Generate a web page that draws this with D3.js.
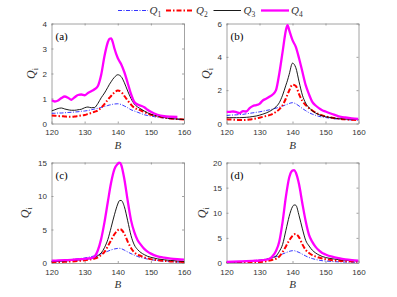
<!DOCTYPE html>
<html><head><meta charset="utf-8">
<script src="https://cdn.jsdelivr.net/npm/d3@7"></script>
<style>body{margin:0;background:#fff}svg{display:block}</style>
</head><body>
<script>
// ---- data ----
const seriesNames = ["Q1","Q2","Q3","Q4"];
const xTicks = [120,130,140,150,160];

const bA = [120,121,122,123,124,125,126,127,128,129,130,131,132,133,134,135,136,137,137.5,138,138.5,139,140,141,142,143,144,145,146,147,148,149,150,152,154,156,158,160];
const q1A = [0.41,0.41,0.42,0.42,0.43,0.44,0.45,0.46,0.47,0.49,0.5,0.52,0.55,0.58,0.61,0.64,0.68,0.72,0.74,0.75,0.77,0.78,0.79,0.76,0.7,0.63,0.55,0.5,0.45,0.4,0.35,0.32,0.3,0.25,0.22,0.19,0.17,0.16];
const q2A = [0.32,0.31,0.3,0.29,0.28,0.27,0.27,0.28,0.3,0.32,0.34,0.38,0.42,0.47,0.52,0.63,0.78,0.95,1.03,1.1,1.18,1.24,1.32,1.27,1.1,0.92,0.76,0.63,0.57,0.52,0.46,0.4,0.35,0.29,0.24,0.2,0.18,0.16];
const q3A = [0.5,0.55,0.6,0.62,0.58,0.55,0.53,0.53,0.55,0.57,0.63,0.66,0.63,0.64,0.8,1.03,1.22,1.45,1.57,1.67,1.77,1.85,1.95,1.88,1.63,1.3,1.0,0.78,0.66,0.58,0.5,0.43,0.37,0.3,0.24,0.2,0.18,0.16];
const q4A = [0.93,0.88,0.92,1.02,1.08,1.03,0.95,1.05,1.14,1.16,1.13,1.22,1.29,1.37,1.5,1.95,2.7,3.25,3.39,3.4,3.25,3.0,2.62,2.38,2.05,1.62,1.18,0.86,0.76,0.71,0.65,0.55,0.47,0.35,0.29,0.27,0.26,null];

const bB = [120,121,122,123,124,125,126,127,128,129,130,131,132,133,134,135,136,137,138,138.5,139,140,141,142,143,144,145,146,147,148,149,150,152,154,156,158,160];
const q1B = [0.48,0.5,0.51,0.52,0.54,0.55,0.58,0.61,0.64,0.67,0.7,0.74,0.78,0.82,0.87,0.92,0.98,1.05,1.12,1.16,1.2,1.25,1.18,1.05,0.9,0.77,0.65,0.56,0.49,0.43,0.39,0.36,0.3,0.26,0.23,0.21,0.2];
const q2B = [0.25,0.24,0.23,0.22,0.21,0.21,0.22,0.24,0.27,0.3,0.35,0.4,0.45,0.5,0.58,0.7,0.85,1.1,1.5,1.75,1.98,2.33,2.25,1.75,1.35,1.1,0.92,0.78,0.66,0.56,0.49,0.43,0.35,0.29,0.25,0.22,0.2];
const q3B = [0.35,0.35,0.35,0.35,0.35,0.36,0.37,0.39,0.42,0.45,0.5,0.56,0.63,0.72,0.84,1.0,1.25,1.7,2.3,2.6,2.95,3.62,3.35,2.5,1.7,1.22,0.95,0.76,0.63,0.53,0.46,0.41,0.34,0.29,0.27,0.25,0.24];
const q4B = [0.7,0.7,0.72,0.68,0.62,0.74,0.72,0.92,1.05,1.1,1.18,1.38,1.48,1.6,1.74,2.0,3.0,4.3,5.6,5.9,5.6,5.0,4.6,3.9,3.1,2.3,1.75,1.3,1.08,0.92,0.8,0.72,0.57,0.43,0.36,0.31,0.28];

const bC = [120,122,124,126,128,130,131,132,133,134,135,136,137,138,139,140,140.5,141,142,143,144,145,146,147,148,149,150,152,154,156,158,160];
const q1C = [0.25,0.32,0.4,0.52,0.63,0.75,0.85,0.95,1.07,1.22,1.38,1.56,1.76,1.95,2.1,2.18,2.2,2.15,1.92,1.65,1.4,1.17,0.97,0.82,0.7,0.58,0.5,0.37,0.27,0.2,0.14,0.1];
const q2C = [0.1,0.13,0.18,0.23,0.3,0.4,0.47,0.55,0.65,0.85,1.2,1.65,2.5,3.4,4.3,4.9,5.05,5.0,4.35,3.2,2.25,1.6,1.25,1.05,0.85,0.7,0.58,0.42,0.32,0.24,0.18,0.15];
const q3C = [0.2,0.25,0.3,0.38,0.45,0.55,0.6,0.68,0.82,1.1,1.5,2.3,3.5,5.3,7.2,8.8,9.3,9.35,8.4,6.3,4.1,2.7,2.0,1.55,1.25,1.0,0.85,0.62,0.48,0.38,0.3,0.25];
const q4C = [0.35,0.38,0.42,0.48,0.55,0.62,0.67,0.72,0.95,1.9,3.6,6.1,9.1,12.0,14.0,14.8,15.0,14.7,12.5,9.3,6.4,4.6,3.4,2.7,2.1,1.7,1.4,1.0,0.8,0.65,0.56,0.5];

const bD = [120,122,124,126,128,130,131,132,133,134,135,136,137,138,139,140,140.5,141,142,143,144,145,146,147,148,149,150,152,154,156,158,160];
const q1D = [0.13,0.2,0.27,0.35,0.47,0.6,0.67,0.77,0.88,1.05,1.25,1.5,1.8,2.05,2.3,2.45,2.45,2.35,2.1,1.75,1.4,1.1,0.88,0.7,0.57,0.46,0.4,0.3,0.23,0.19,0.15,0.13];
const q2D = [0.05,0.07,0.1,0.13,0.17,0.2,0.26,0.35,0.48,0.65,0.85,1.3,2.2,3.3,4.5,5.4,5.72,5.75,5.1,3.7,2.6,2.0,1.55,1.3,1.08,0.9,0.77,0.56,0.44,0.36,0.3,0.26];
const q3D = [0.13,0.18,0.24,0.3,0.37,0.46,0.55,0.68,0.85,1.1,1.4,2.3,3.7,6.5,9.3,11.2,11.55,11.5,9.4,6.8,4.5,3.4,2.55,2.0,1.6,1.3,1.1,0.85,0.67,0.55,0.46,0.4];
const q4D = [0.22,0.27,0.32,0.37,0.43,0.5,0.56,0.65,0.85,1.4,2.4,4.3,8.2,13.2,17.0,18.4,18.5,18.0,15.6,11.8,8.3,5.6,4.2,3.2,2.5,2.0,1.7,1.25,0.95,0.72,0.57,0.46];

const yTicksA = [0,1,2,3,4], yTicksB = [0,2,4,6], yTicksC = [0,5,10,15], yTicksD = [0,5,10,15,20];

// ---- layout ----
const W = 397, H = 297;
const svg = d3.select("body").append("svg").attr("width", W).attr("height", H);

const styles = [
  {color:"#0000ff", width:0.8, dash:"4,1.5,1,1.5"},
  {color:"#ff0000", width:2, dash:"5,2,1.5,2"},
  {color:"#000000", width:0.9, dash:null},
  {color:"#ff00ff", width:2.3, dash:null}
];

const panels = [
  {label:"(a)", b:bA, qs:[q1A,q2A,q3A,q4A], yMax:4, yTicks:yTicksA, x0:51.5, x1:184, y0:23.5, y1:123.5, yl:32},
  {label:"(b)", b:bB, qs:[q1B,q2B,q3B,q4B], yMax:6, yTicks:yTicksB, x0:226.5, x1:358.5, y0:23.5, y1:123.5, yl:207},
  {label:"(c)", b:bC, qs:[q1C,q2C,q3C,q4C], yMax:15, yTicks:yTicksC, x0:51.5, x1:184, y0:162.5, y1:263, yl:26},
  {label:"(d)", b:bD, qs:[q1D,q2D,q3D,q4D], yMax:20, yTicks:yTicksD, x0:226.5, x1:358.5, y0:162.5, y1:263, yl:203}
];

const axisColor = "#8c8c8c", textColor = "#333";
const fmt = d3.format("d");

panels.forEach((p, pi) => {
  const x = d3.scaleLinear().domain([120,160]).range([p.x0, p.x1]);
  const y = d3.scaleLinear().domain([0,p.yMax]).range([p.y1, p.y0]);
  const g = svg.append("g");
  const clipId = "clip" + pi;
  svg.append("clipPath").attr("id", clipId).append("rect")
    .attr("x", p.x0).attr("y", p.y0 - 1).attr("width", p.x1 - p.x0).attr("height", p.y1 - p.y0 + 1);

  const tl = 2;
  const xb = d3.axisBottom(x).tickValues(xTicks).tickFormat(fmt).tickSizeInner(-tl).tickSizeOuter(0).tickPadding(6);
  const xt = d3.axisTop(x).tickValues(xTicks).tickSizeInner(-tl).tickSizeOuter(0).tickFormat("");
  const yl = d3.axisLeft(y).tickValues(p.yTicks).tickFormat(fmt).tickSizeInner(-tl).tickSizeOuter(0).tickPadding(4.5);
  const yr = d3.axisRight(y).tickValues(p.yTicks).tickSizeInner(-tl).tickSizeOuter(0).tickFormat("");
  [[xb,`translate(0,${p.y1})`],[xt,`translate(0,${p.y0})`],[yl,`translate(${p.x0},0)`],[yr,`translate(${p.x1},0)`]]
    .forEach(([ax,tr]) => {
      const a = g.append("g").attr("transform", tr).call(ax);
      a.select(".domain").attr("stroke", axisColor).attr("stroke-width", 0.8);
      a.selectAll(".tick line").attr("stroke", axisColor).attr("stroke-width", 0.8);
      a.selectAll("text").attr("fill", textColor).style("font-family", "Liberation Sans, Arial, sans-serif").style("font-size", "8px");
    });

  const lg = g.append("g").attr("clip-path", `url(#${clipId})`);
  p.qs.forEach((q, si) => {
    const pts = p.b.map((bv, i) => [bv, q[i]]);
    const line = d3.line().defined(d => d[1] != null).x(d => x(d[0])).y(d => y(d[1])).curve(d3.curveMonotoneX);
    const st = styles[si];
    lg.append("path").attr("d", line(pts)).attr("fill", "none")
      .attr("stroke", st.color).attr("stroke-width", st.width)
      .attr("stroke-dasharray", st.dash).attr("stroke-linejoin", "round");
  });

  g.append("text").attr("x", p.x0 + 4).attr("y", p.y0 + 16).text(p.label)
    .style("font-family", "Liberation Serif, Times New Roman, serif").style("font-size", "11px").attr("fill", "#000");

  g.append("text").attr("x", (p.x0 + p.x1) / 2).attr("y", p.y1 + 25).attr("text-anchor", "middle")
    .style("font-family", "Liberation Serif, Times New Roman, serif").style("font-size", "11px").style("font-style", "italic")
    .attr("fill", textColor).text("B");

  const cy = (p.y0 + p.y1) / 2;
  const yt = g.append("text").attr("transform", `translate(${p.yl + 3},${cy}) rotate(-90)`).attr("text-anchor", "middle")
    .style("font-family", "Liberation Serif, Times New Roman, serif").attr("fill", textColor);
  yt.append("tspan").style("font-style", "italic").style("font-size", "12px").text("Q");
  yt.append("tspan").style("font-size", "8px").attr("dy", 3).text("i");
});

const legendItems = [
  {x0:118, x1:148, tx:149.5, sub:"1"},
  {x0:166, x1:193.5, tx:196, sub:"2"},
  {x0:213.5, x1:241, tx:243.5, sub:"3"},
  {x0:261, x1:289, tx:291, sub:"4"}
];
legendItems.forEach((li, i) => {
  const st = styles[i];
  svg.append("line").attr("x1", li.x0).attr("x2", li.x1).attr("y1", 10.5).attr("y2", 10.5)
    .attr("stroke", st.color).attr("stroke-width", st.width).attr("stroke-dasharray", st.dash);
  const t = svg.append("text").attr("x", li.tx).attr("y", 14)
    .style("font-family", "Liberation Serif, Times New Roman, serif").attr("fill", textColor);
  t.append("tspan").style("font-style", "italic").style("font-size", "11px").text("Q");
  t.append("tspan").style("font-size", "7.5px").attr("dy", 2.5).text(li.sub);
});
</script>
</body></html>
